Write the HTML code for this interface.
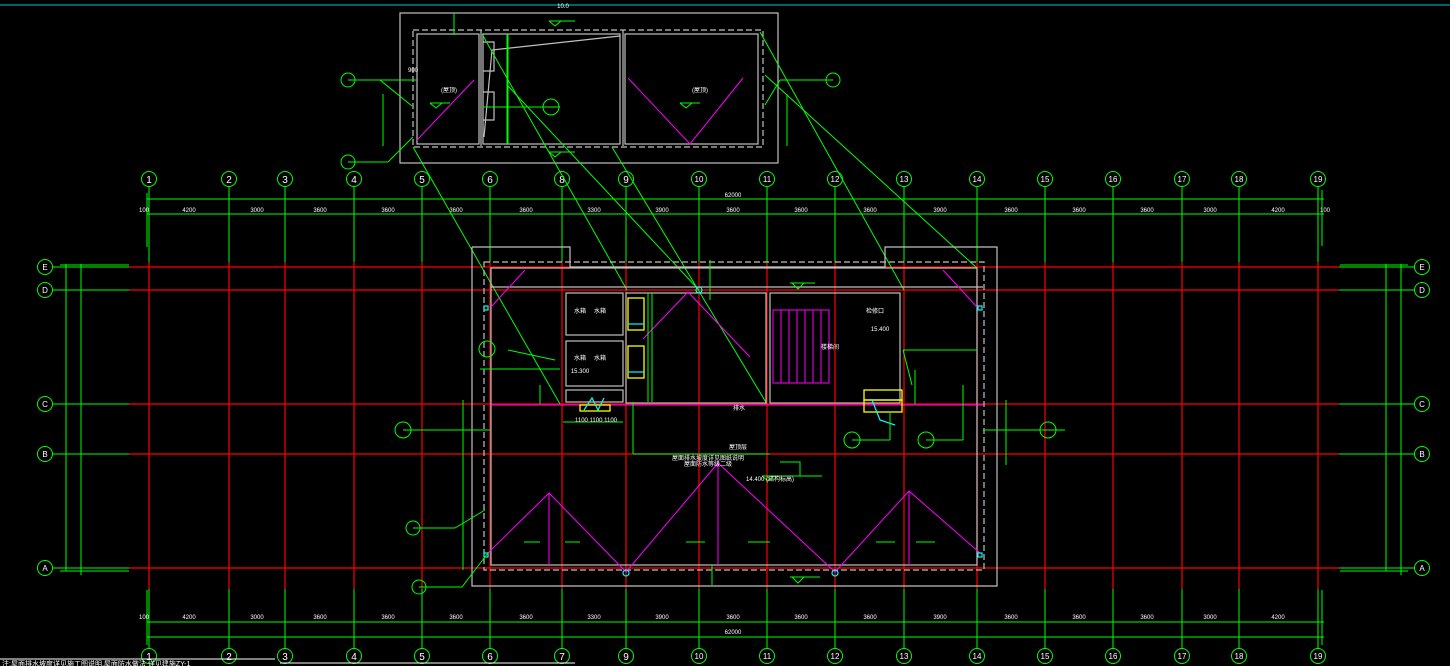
<!DOCTYPE html>
<html><head><meta charset="utf-8"><style>
html,body{margin:0;padding:0;background:#000;width:1450px;height:666px;overflow:hidden}
svg{display:block}
text{font-family:"Liberation Sans","Noto Sans CJK SC",sans-serif;fill:#fff}
.g{stroke:#00ff00;fill:none;stroke-width:1}
.r{stroke:#ff0000;fill:none;stroke-width:1.2}
.w{stroke:#c0c0c0;fill:none;stroke-width:1.2}
.d{stroke:#c0c0c0;fill:none;stroke-width:1.2;stroke-dasharray:6 3}
.m{stroke:#ff00ff;fill:none;stroke-width:1}
.y{stroke:#ffff00;fill:none;stroke-width:1.3}
.c{stroke:#00ffff;fill:none;stroke-width:1.2}
.bt{font-size:10px;text-anchor:middle;fill:#fff}
.s{font-size:6px;text-anchor:middle}
</style></head><body>
<svg width="1450" height="666" viewBox="0 0 1450 666" xmlns="http://www.w3.org/2000/svg">
<line x1="0" y1="5" x2="1450" y2="5" stroke="#00c8c8" stroke-width="1"/>

<g class="r">
<line x1="149" y1="262" x2="149" y2="589"/><line x1="229" y1="262" x2="229" y2="589"/><line x1="285" y1="262" x2="285" y2="589"/><line x1="354" y1="262" x2="354" y2="589"/><line x1="422" y1="262" x2="422" y2="589"/><line x1="490" y1="262" x2="490" y2="589"/><line x1="562" y1="262" x2="562" y2="589"/><line x1="626" y1="262" x2="626" y2="589"/><line x1="699" y1="262" x2="699" y2="589"/><line x1="767" y1="262" x2="767" y2="589"/><line x1="835" y1="262" x2="835" y2="589"/><line x1="904" y1="262" x2="904" y2="589"/><line x1="977" y1="262" x2="977" y2="589"/><line x1="1045" y1="262" x2="1045" y2="589"/><line x1="1113" y1="262" x2="1113" y2="589"/><line x1="1182" y1="262" x2="1182" y2="589"/><line x1="1239" y1="262" x2="1239" y2="589"/><line x1="1318" y1="262" x2="1318" y2="589"/>
<line x1="129" y1="267" x2="1339" y2="267"/><line x1="129" y1="290" x2="1339" y2="290"/><line x1="129" y1="404" x2="1339" y2="404"/><line x1="129" y1="454" x2="1339" y2="454"/><line x1="129" y1="568" x2="1339" y2="568"/>
</g>

<g class="g">
<line x1="149" y1="187" x2="149" y2="262"/><line x1="229" y1="187" x2="229" y2="262"/><line x1="285" y1="187" x2="285" y2="262"/><line x1="354" y1="187" x2="354" y2="262"/><line x1="422" y1="187" x2="422" y2="262"/><line x1="490" y1="187" x2="490" y2="262"/><line x1="562" y1="187" x2="562" y2="262"/><line x1="626" y1="187" x2="626" y2="262"/><line x1="699" y1="187" x2="699" y2="262"/><line x1="767" y1="187" x2="767" y2="262"/><line x1="835" y1="187" x2="835" y2="262"/><line x1="904" y1="187" x2="904" y2="262"/><line x1="977" y1="187" x2="977" y2="262"/><line x1="1045" y1="187" x2="1045" y2="262"/><line x1="1113" y1="187" x2="1113" y2="262"/><line x1="1182" y1="187" x2="1182" y2="262"/><line x1="1239" y1="187" x2="1239" y2="262"/><line x1="1318" y1="187" x2="1318" y2="262"/>
<line x1="149" y1="589" x2="149" y2="648"/><line x1="229" y1="589" x2="229" y2="648"/><line x1="285" y1="589" x2="285" y2="648"/><line x1="354" y1="589" x2="354" y2="648"/><line x1="422" y1="589" x2="422" y2="648"/><line x1="490" y1="589" x2="490" y2="648"/><line x1="562" y1="589" x2="562" y2="648"/><line x1="626" y1="589" x2="626" y2="648"/><line x1="699" y1="589" x2="699" y2="648"/><line x1="767" y1="589" x2="767" y2="648"/><line x1="835" y1="589" x2="835" y2="648"/><line x1="904" y1="589" x2="904" y2="648"/><line x1="977" y1="589" x2="977" y2="648"/><line x1="1045" y1="589" x2="1045" y2="648"/><line x1="1113" y1="589" x2="1113" y2="648"/><line x1="1182" y1="589" x2="1182" y2="648"/><line x1="1239" y1="589" x2="1239" y2="648"/><line x1="1318" y1="589" x2="1318" y2="648"/>
<line x1="147" y1="199" x2="1324" y2="199"/><line x1="147" y1="214" x2="1324" y2="214"/>
<line x1="147" y1="622" x2="1324" y2="622"/><line x1="147" y1="637" x2="1324" y2="637"/>
<line x1="147" y1="193" x2="147" y2="247"/><line x1="1322" y1="190" x2="1322" y2="246"/>
<line x1="147" y1="590" x2="147" y2="645"/><line x1="1322" y1="590" x2="1322" y2="645"/>
<line x1="53" y1="267" x2="129" y2="267"/><line x1="53" y1="290" x2="129" y2="290"/><line x1="53" y1="404" x2="129" y2="404"/><line x1="53" y1="454" x2="129" y2="454"/><line x1="53" y1="568" x2="129" y2="568"/><line x1="60" y1="571" x2="129" y2="571"/><line x1="60" y1="265" x2="129" y2="265"/>
<line x1="1339" y1="267" x2="1415" y2="267"/><line x1="1339" y1="290" x2="1415" y2="290"/><line x1="1339" y1="404" x2="1415" y2="404"/><line x1="1339" y1="454" x2="1415" y2="454"/><line x1="1339" y1="568" x2="1415" y2="568"/><line x1="1340" y1="265" x2="1408" y2="265"/><line x1="1340" y1="571" x2="1408" y2="571"/>
<line x1="66" y1="264" x2="66" y2="571"/><line x1="81" y1="264" x2="81" y2="575"/>
<line x1="1386" y1="264" x2="1386" y2="571"/><line x1="1401" y1="264" x2="1401" y2="575"/>
<circle cx="149" cy="179" r="7.5"/><circle cx="229" cy="179" r="7.5"/><circle cx="285" cy="179" r="7.5"/><circle cx="354" cy="179" r="7.5"/><circle cx="422" cy="179" r="7.5"/><circle cx="490" cy="179" r="7.5"/><circle cx="562" cy="179" r="7.5"/><circle cx="626" cy="179" r="7.5"/><circle cx="699" cy="179" r="7.5"/><circle cx="767" cy="179" r="7.5"/><circle cx="835" cy="179" r="7.5"/><circle cx="904" cy="179" r="7.5"/><circle cx="977" cy="179" r="7.5"/><circle cx="1045" cy="179" r="7.5"/><circle cx="1113" cy="179" r="7.5"/><circle cx="1182" cy="179" r="7.5"/><circle cx="1239" cy="179" r="7.5"/><circle cx="1318" cy="179" r="7.5"/>
<circle cx="149" cy="656" r="7.5"/><circle cx="229" cy="656" r="7.5"/><circle cx="285" cy="656" r="7.5"/><circle cx="354" cy="656" r="7.5"/><circle cx="422" cy="656" r="7.5"/><circle cx="490" cy="656" r="7.5"/><circle cx="562" cy="656" r="7.5"/><circle cx="626" cy="656" r="7.5"/><circle cx="699" cy="656" r="7.5"/><circle cx="767" cy="656" r="7.5"/><circle cx="835" cy="656" r="7.5"/><circle cx="904" cy="656" r="7.5"/><circle cx="977" cy="656" r="7.5"/><circle cx="1045" cy="656" r="7.5"/><circle cx="1113" cy="656" r="7.5"/><circle cx="1182" cy="656" r="7.5"/><circle cx="1239" cy="656" r="7.5"/><circle cx="1318" cy="656" r="7.5"/>
<circle cx="45" cy="267" r="7.5"/><circle cx="45" cy="290" r="7.5"/><circle cx="45" cy="404" r="7.5"/><circle cx="45" cy="454" r="7.5"/><circle cx="45" cy="568" r="7.5"/>
<circle cx="1422" cy="267" r="7.5"/><circle cx="1422" cy="290" r="7.5"/><circle cx="1422" cy="404" r="7.5"/><circle cx="1422" cy="454" r="7.5"/><circle cx="1422" cy="568" r="7.5"/>
</g>
<g class="bt">
<text x="149" y="183">1</text><text x="229" y="183">2</text><text x="285" y="183">3</text><text x="354" y="183">4</text><text x="422" y="183">5</text><text x="490" y="183">6</text><text x="562" y="183">8</text><text x="626" y="183">9</text><text x="699" y="182" font-size="8">10</text><text x="767" y="182" font-size="8">11</text><text x="835" y="182" font-size="8">12</text><text x="904" y="182" font-size="8">13</text><text x="977" y="182" font-size="8">14</text><text x="1045" y="182" font-size="8">15</text><text x="1113" y="182" font-size="8">16</text><text x="1182" y="182" font-size="8">17</text><text x="1239" y="182" font-size="8">18</text><text x="1318" y="182" font-size="8">19</text>
<text x="149" y="660">1</text><text x="229" y="660">2</text><text x="285" y="660">3</text><text x="354" y="660">4</text><text x="422" y="660">5</text><text x="490" y="660">6</text><text x="562" y="660">7</text><text x="626" y="660">9</text><text x="699" y="659" font-size="8">10</text><text x="767" y="659" font-size="8">11</text><text x="835" y="659" font-size="8">12</text><text x="904" y="659" font-size="8">13</text><text x="977" y="659" font-size="8">14</text><text x="1045" y="659" font-size="8">15</text><text x="1113" y="659" font-size="8">16</text><text x="1182" y="659" font-size="8">17</text><text x="1239" y="659" font-size="8">18</text><text x="1318" y="659" font-size="8">19</text>
<text x="45" y="270" font-size="8">E</text><text x="45" y="293" font-size="8">D</text><text x="45" y="407" font-size="8">C</text><text x="45" y="457" font-size="8">B</text><text x="45" y="571" font-size="8">A</text>
<text x="1422" y="270" font-size="8">E</text><text x="1422" y="293" font-size="8">D</text><text x="1422" y="407" font-size="8">C</text><text x="1422" y="457" font-size="8">B</text><text x="1422" y="571" font-size="8">A</text>
</g>
<g class="s">
<text x="733" y="197">62000</text><text x="733" y="634">62000</text>
<text x="189" y="212">4200</text><text x="257" y="212">3000</text><text x="320" y="212">3600</text><text x="388" y="212">3600</text><text x="456" y="212">3600</text><text x="526" y="212">3600</text><text x="594" y="212">3300</text><text x="662" y="212">3900</text><text x="733" y="212">3600</text><text x="801" y="212">3600</text><text x="870" y="212">3600</text><text x="940" y="212">3900</text><text x="1011" y="212">3600</text><text x="1079" y="212">3600</text><text x="1147" y="212">3600</text><text x="1210" y="212">3000</text><text x="1278" y="212">4200</text><text x="144" y="212">100</text><text x="1325" y="212">100</text>
<text x="189" y="619">4200</text><text x="257" y="619">3000</text><text x="320" y="619">3600</text><text x="388" y="619">3600</text><text x="456" y="619">3600</text><text x="526" y="619">3600</text><text x="594" y="619">3300</text><text x="662" y="619">3900</text><text x="733" y="619">3600</text><text x="801" y="619">3600</text><text x="870" y="619">3600</text><text x="940" y="619">3900</text><text x="1011" y="619">3600</text><text x="1079" y="619">3600</text><text x="1147" y="619">3600</text><text x="1210" y="619">3000</text><text x="1278" y="619">4200</text><text x="144" y="619">100</text>
</g>

<rect class="w" x="400" y="13" width="378" height="150"/>
<rect class="d" x="413" y="30" width="350" height="117"/>
<rect class="w" x="417" y="34" width="62" height="110"/>
<rect class="w" x="483" y="34" width="137" height="110"/>
<rect class="w" x="625" y="34" width="133" height="110"/>
<line class="w" x1="481" y1="30" x2="481" y2="146"/><line class="w" x1="623" y1="30" x2="623" y2="146"/>
<polyline class="w" points="483,42 494,42 494,71 483,71"/><polyline class="w" points="483,92 494,92 494,120 483,120"/>
<polyline class="w" points="620,36 492,50 484,137"/>
<polyline class="m" points="417,140 474,80"/><polyline class="m" points="628,78 690,144 743,78"/>
<g class="g">
<line x1="454" y1="13" x2="454" y2="35"/><line x1="507" y1="34" x2="507" y2="144"/><line x1="508" y1="34" x2="508" y2="144"/>
<line x1="483" y1="107" x2="560" y2="107"/><circle cx="551" cy="107" r="8"/>
<line x1="380" y1="80" x2="417" y2="80"/><circle cx="348" cy="80" r="7"/><line x1="348" y1="80" x2="380" y2="80"/><line x1="380" y1="80" x2="412" y2="106"/>
<circle cx="348" cy="162" r="7"/><line x1="348" y1="162" x2="388" y2="162"/><line x1="388" y1="162" x2="413" y2="137"/>
<circle cx="833" cy="80" r="7"/><line x1="780" y1="80" x2="833" y2="80"/><line x1="780" y1="80" x2="765" y2="105"/>
<line x1="383" y1="94" x2="383" y2="146"/><line x1="787" y1="94" x2="787" y2="146"/>
<polyline points="430,103 450,103"/><polyline points="430,103 436,108 442,103"/><polyline points="680,103 700,103"/><polyline points="680,103 686,108 692,103"/>
<polyline points="549,152 575,152"/><polyline points="549,152 555,157 561,152"/><polyline points="549,21 575,21"/><polyline points="549,21 555,26 561,21"/>
<line x1="482" y1="34" x2="627" y2="290"/><line x1="508" y1="86" x2="699" y2="290"/><line x1="413" y1="147" x2="560" y2="404"/>
<line x1="612" y1="147" x2="767" y2="404"/><line x1="760" y1="32" x2="904" y2="290"/><line x1="765" y1="75" x2="977" y2="268"/>
</g>
<g class="s"><text x="449" y="92">(屋顶)</text><text x="700" y="92">(屋顶)</text><text x="413" y="72">900</text><text x="563" y="8">10.0</text></g>

<polyline class="w" points="472,247 570,247 570,267 885,267 885,247 997,247 997,586 472,586 472,247"/>
<rect class="d" x="484" y="262" width="500" height="308"/>
<rect class="w" x="491" y="268" width="486" height="297"/>
<line class="w" x1="491" y1="287" x2="983" y2="287"/>
<rect class="w" x="566" y="293" width="57" height="42"/><rect class="w" x="566" y="341" width="57" height="45"/><rect class="w" x="566" y="390" width="57" height="12"/>
<rect class="w" x="770" y="293" width="130" height="110"/><rect class="w" x="626" y="293" width="140" height="110"/>
<line x1="491" y1="405" x2="983" y2="405" stroke="#ff00ff" stroke-width="1"/>
<g class="y"><rect x="628" y="298" width="16" height="32"/><rect x="628" y="346" width="16" height="32"/><rect x="864" y="390" width="38" height="10"/><rect x="864" y="400" width="38" height="12"/><rect x="580" y="405" width="30" height="6"/></g>
<g class="m" stroke-width="2"><rect x="773" y="310" width="56" height="73"/><line x1="781" y1="310" x2="781" y2="383"/><line x1="789" y1="310" x2="789" y2="383"/><line x1="797" y1="310" x2="797" y2="383"/><line x1="805" y1="310" x2="805" y2="383"/><line x1="813" y1="310" x2="813" y2="383"/><line x1="821" y1="310" x2="821" y2="383"/></g>
<g class="m">
<polyline points="491,307 525,270"/><polyline points="943,270 977,307"/>
<polyline points="643,339 688,292 750,357"/>
<polyline points="488,553 549,493 626,572 718,463 835,572 909,491 980,553"/>
<line x1="549" y1="493" x2="549" y2="565"/><line x1="718" y1="463" x2="718" y2="565"/><line x1="909" y1="491" x2="909" y2="565"/>
</g>
<g class="c"><rect x="484" y="306" width="4" height="4"/><rect x="978" y="306" width="4" height="4"/><rect x="484" y="553" width="4" height="4"/><rect x="978" y="553" width="4" height="4"/><circle cx="626" cy="573" r="3"/><circle cx="835" cy="573" r="3"/><circle cx="699" cy="290" r="3"/><polyline points="584,410 592,398 598,410 604,398"/><polyline points="872,400 880,420 895,425"/><line x1="628" y1="324" x2="644" y2="324"/><line x1="628" y1="372" x2="644" y2="372"/></g>
<g class="g">
<line x1="648" y1="293" x2="648" y2="402"/><line x1="652" y1="293" x2="652" y2="402"/>
<line x1="633" y1="402" x2="633" y2="454"/><line x1="633" y1="454" x2="770" y2="454"/>
<line x1="480" y1="369" x2="560" y2="369"/><line x1="508" y1="350" x2="555" y2="360"/><circle cx="487" cy="349" r="8"/>
<line x1="903" y1="350" x2="977" y2="350"/><line x1="903" y1="350" x2="912" y2="385"/>
<circle cx="852" cy="440" r="8"/><line x1="852" y1="440" x2="890" y2="440"/><line x1="890" y1="440" x2="890" y2="412"/>
<circle cx="926" cy="440" r="8"/><line x1="926" y1="440" x2="963" y2="440"/><line x1="963" y1="440" x2="963" y2="385"/>
<circle cx="403" cy="430" r="8"/><line x1="403" y1="430" x2="490" y2="430"/>
<circle cx="413" cy="528" r="7"/><line x1="413" y1="528" x2="455" y2="528"/><line x1="455" y1="528" x2="485" y2="510"/>
<circle cx="419" cy="587" r="7"/><line x1="419" y1="587" x2="462" y2="587"/><line x1="462" y1="587" x2="488" y2="553"/>
<circle cx="1048" cy="430" r="8"/><line x1="983" y1="430" x2="1065" y2="430"/>
<line x1="463" y1="400" x2="463" y2="570"/><line x1="1006" y1="400" x2="1006" y2="465"/>
<line x1="540" y1="404" x2="540" y2="385"/><line x1="915" y1="404" x2="915" y2="370"/>
<polyline points="790,283 815,283"/><polyline points="792,283 798,289 804,283"/><polyline points="790,577 820,577"/><polyline points="792,577 798,583 804,577"/>
<polyline points="524,542 540,542"/><polyline points="565,542 580,542"/><polyline points="686,542 705,542"/><polyline points="748,542 770,542"/><polyline points="876,542 895,542"/><polyline points="916,542 935,542"/>
<polyline points="762,476 822,476"/><polyline points="762,476 768,481 774,476"/><polyline points="780,462 800,462 800,476"/>
<line x1="563" y1="422" x2="623" y2="422"/><line x1="710" y1="260" x2="710" y2="300"/><line x1="712" y1="565" x2="712" y2="585"/>
</g>
<g class="s">
<text x="830" y="349" fill="#ffff00">楼梯间</text><text x="875" y="313" fill="#ffff00">检修口</text><text x="580" y="313" fill="#ff00ff">水箱</text><text x="600" y="313" fill="#ffff00">水箱</text><text x="580" y="360" fill="#ff00ff">水箱</text><text x="600" y="360" fill="#ffff00">水箱</text>
<text x="708" y="460">屋面排水坡度详见图纸说明</text><text x="708" y="466">屋面防水等级二级</text><text x="738" y="449">屋顶层</text>
<text x="580" y="373">15.300</text><text x="880" y="331">15.400</text><text x="770" y="481">14.400 (结构标高)</text>
<text x="596" y="422">1100 1100 1100</text><text x="739" y="410">排水</text>
</g>
<line x1="0" y1="659" x2="275" y2="659" stroke="#fff" stroke-width="1"/>
<line x1="280" y1="663" x2="575" y2="663" stroke="#fff" stroke-width="1"/>
<text x="2" y="666" font-size="7">注:屋面排水坡度详见施工图说明,屋面防水做法 详见建施ZY-1</text>
</svg>
</body></html>
